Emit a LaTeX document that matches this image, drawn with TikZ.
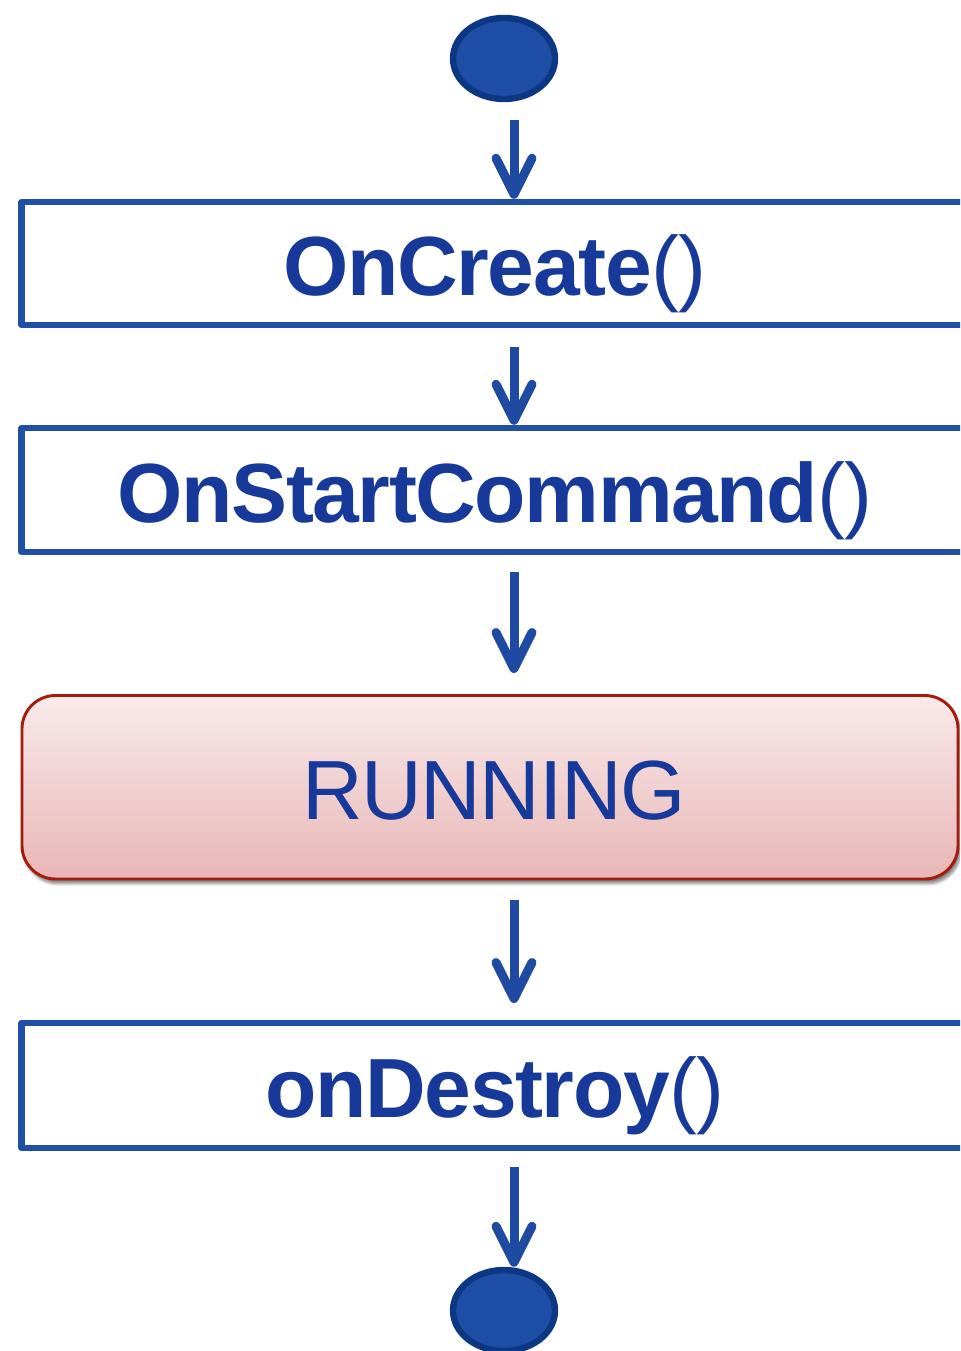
\documentclass[tikz,border=0pt]{standalone}
\usepackage{fontspec}
\setmainfont{Liberation Sans}
\newfontfamily\lblfont[LetterSpace=-1.7]{Liberation Sans}
\usetikzlibrary{arrows.meta,shapes.geometric,shadows.blur}
\definecolor{boxblue}{HTML}{1F4FA6}
\definecolor{arrowblue}{HTML}{1F4AA2}
\definecolor{textblue}{HTML}{17399A}
\definecolor{ovalfill}{HTML}{1E4EA6}
\definecolor{ovalline}{HTML}{0C3883}
\definecolor{runline}{HTML}{A41B0B}
\definecolor{runtop}{HTML}{F9EAEA}
\definecolor{runbottom}{HTML}{E8B6B6}
\begin{document}
\begin{tikzpicture}[x=0.75pt,y=-0.75pt,
  startend/.style={ellipse, draw=ovalline, fill=ovalfill, line width=4.8pt,
    minimum width=76.5pt, minimum height=60.75pt, inner sep=0pt},
  labeltext/.style={text=textblue, font=\lblfont\fontsize{63pt}{70pt}\selectfont,
    text height=48pt, text depth=0pt},
  stepbox/.style={rectangle, draw=boxblue, line width=4.8pt, line join=round,
    fill=white, minimum width=710.25pt, minimum height=92.25pt, inner sep=0pt, labeltext},
  runbox/.style={rectangle, rounded corners=25pt, draw=runline, line width=2.2pt,
    top color=runtop, bottom color=runbottom, minimum width=702pt,
    minimum height=137.6pt, inner sep=0pt, labeltext,
    blur shadow={shadow xshift=2pt, shadow yshift=-3.5pt, shadow blur steps=6, shadow opacity=50}},
  flow/.style={draw=arrowblue, line width=6.75pt,
    -{Straight Barb[length=27pt, width=27pt, round]}}
]
\useasboundingbox (0,0) rectangle (960,1351);
\clip (0,0) rectangle (960,1351);

\node[startend] (start) at (504,58.5) {};
\node[stepbox] (create) at (495,263.5) {{\bfseries OnCreate}()};
\node[stepbox, minimum height=93pt] (startcmd) at (495,490) {{\bfseries OnStartCommand}()};
\node[runbox] (running) at (490,787.25) {\hspace*{6pt}RUNNING};
\node[stepbox, minimum height=93.75pt] (destroy) at (495,1085.5) {{\bfseries onDestroy}()};
\node[startend] (end) at (504,1310.5) {};

\coordinate (a1) at (514,120);
\coordinate (a2) at (514,347);
\coordinate (a3) at (514,572);
\coordinate (e3) at (514,673);
\coordinate (a4) at (514,900);
\coordinate (e4) at (514,1003);
\coordinate (a5) at (514,1167);

\draw[flow] (a1) -- (a1 |- create.north);
\draw[flow] (a2) -- (a2 |- startcmd.north);
\draw[flow] (a3) -- (e3);
\draw[flow] (a4) -- (e4);
\draw[flow] (a5) -- (a5 |- end.north);
\end{tikzpicture}
\end{document}
